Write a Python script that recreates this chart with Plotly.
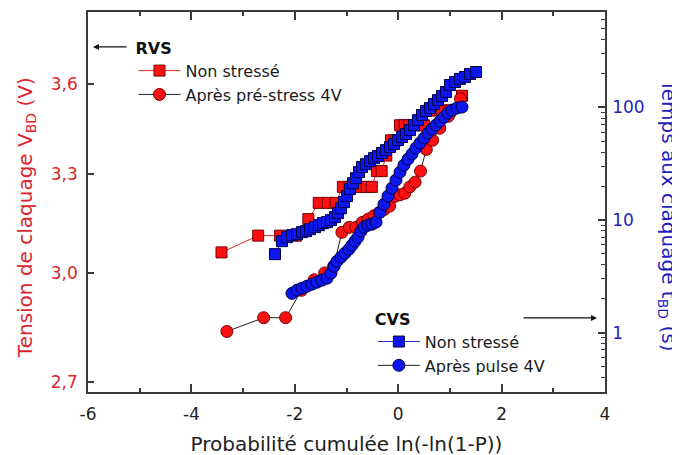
import math
import plotly.graph_objects as go

# ---------------- data ----------------
# RVS - Non stressé (tension de claquage, V)
rvs_ns_x = [-3.418, -2.708, -2.285, -1.979, -1.738, -1.537, -1.363, -1.209, -1.070, -0.943,
            -0.825, -0.714, -0.609, -0.510, -0.413, -0.320, -0.230, -0.140, -0.052, 0.035,
            0.123, 0.213, 0.304, 0.398, 0.496, 0.601, 0.717, 0.848, 1.008, 1.234]
rvs_ns_v = [3.06, 3.11, 3.11, 3.11, 3.16, 3.21, 3.21, 3.21, 3.26, 3.26,
            3.26, 3.26, 3.26, 3.26, 3.31, 3.31, 3.36, 3.41, 3.41, 3.46,
            3.46, 3.46, 3.46, 3.46, 3.46, 3.51, 3.51, 3.51, 3.51, 3.56]

# RVS - Après pré-stress 4V
rvs_ps_x = [-3.314, -2.602, -2.178, -1.870, -1.626, -1.422, -1.246, -1.089, -0.947, -0.817,
            -0.695, -0.581, -0.471, -0.367, -0.265, -0.166, -0.068, 0.029, 0.127, 0.225,
            0.327, 0.432, 0.544, 0.666, 0.804, 0.970, 1.204]
rvs_ps_v = [2.835, 2.873, 2.873, 2.95, 2.98, 3.00, 3.02, 3.12, 3.135, 3.135,
            3.15, 3.16, 3.17, 3.18, 3.19, 3.20, 3.23, 3.235, 3.24, 3.26,
            3.275, 3.31, 3.38, 3.41, 3.45, 3.49, 3.55]

# CVS - Non stressé (temps au claquage, s)
cvs_ns_x = [-2.383, -2.248, -2.151, -2.054, -1.957, -1.861, -1.783, -1.706, -1.609, -1.532,
            -1.455, -1.377, -1.300, -1.222, -1.164, -1.106, -1.048, -0.990, -0.932, -0.874,
            -0.816, -0.758, -0.700, -0.623, -0.545, -0.468, -0.391, -0.313, -0.236, -0.159,
            -0.081, -0.004, 0.074, 0.151, 0.228, 0.306, 0.383, 0.460, 0.538, 0.615,
            0.692, 0.770, 0.847, 0.925, 1.002, 1.099, 1.195, 1.292, 1.389, 1.505]
cvs_ns_t = [4.97, 6.48, 7.03, 7.33, 7.48, 7.79, 7.95, 8.28, 8.63, 8.99,
            9.37, 9.56, 9.96, 10.6, 11.5, 12.7, 14.4, 16.3, 18.8, 21.2,
            23.5, 26.6, 29.5, 31.3, 33.3, 35.4, 36.9, 39.3, 41.7, 44.4,
            47.2, 51.2, 54.5, 57.9, 62.8, 69.6, 77.1, 85.5, 92.7, 98.6,
            107, 116, 126, 137, 158, 168, 179, 186, 198, 206]

# CVS - Après pulse 4V
cvs_pp_x = [-2.054, -1.957, -1.861, -1.764, -1.667, -1.571, -1.474, -1.377, -1.300, -1.242,
            -1.184, -1.106, -1.029, -0.952, -0.894, -0.836, -0.778, -0.720, -0.662, -0.584,
            -0.507, -0.429, -0.352, -0.275, -0.197, -0.120, -0.043, 0.035, 0.112, 0.190,
            0.267, 0.344, 0.422, 0.499, 0.576, 0.654, 0.731, 0.809, 0.886, 0.963,
            1.041, 1.137, 1.234]
cvs_pp_t = [2.23, 2.38, 2.48, 2.58, 2.69, 2.80, 2.92, 3.04, 3.37, 3.88,
            4.30, 4.67, 5.07, 5.50, 5.97, 6.48, 7.03, 7.95, 8.63, 8.99,
            9.18, 9.56, 11.7, 13.8, 16.3, 19.2, 22.6, 26.6, 30.7, 34.7,
            38.5, 43.5, 48.2, 53.3, 59.1, 64.1, 69.6, 75.6, 82.0, 89.0,
            94.6, 98.6, 100.6]

# ticks
x_ticks = [-6, -4, -2, 0, 2, 4]
x_ticktext = ["-6", "-4", "-2", "0", "2", "4"]
x_minor = [-5, -3, -1, 1, 3]
v_ticks = [2.7, 3.0, 3.3, 3.6]
v_ticktext = ["2,7", "3,0", "3,3", "3,6"]
t_ticks = [1, 10, 100]
t_ticktext = ["1", "10", "100"]
t_minor = [0.3, 0.4, 0.5, 0.6, 0.7, 0.8, 0.9, 2, 3, 4, 5, 6, 7, 8, 9,
           20, 30, 40, 50, 60, 70, 80, 90, 200, 300, 400, 500, 600]

# ---------------- style ----------------
FONT = "DejaVu Sans"
RED_TXT = "#dc2430"
BLUE_TXT = "#1f1fbf"
AX = "#3a3a3a"
RED_FILL, RED_EDGE = "#fa1212", "#7a0000"
BLUE_FILL, BLUE_EDGE = "#0c16ee", "#00004a"

fig = go.Figure()
fig.add_trace(go.Scatter(
    x=rvs_ns_x, y=rvs_ns_v, name="Non stressé", mode="lines+markers", yaxis="y",
    legend="legend",
    line=dict(color="#e02828", width=1),
    marker=dict(symbol="square", size=11, color=RED_FILL, line=dict(color=RED_EDGE, width=1))))
fig.add_trace(go.Scatter(
    x=rvs_ps_x, y=rvs_ps_v, name="Après pré-stress 4V", mode="lines+markers", yaxis="y",
    legend="legend",
    line=dict(color="#202020", width=1),
    marker=dict(symbol="circle", size=12, color=RED_FILL, line=dict(color=RED_EDGE, width=1))))
fig.add_trace(go.Scatter(
    x=cvs_ns_x, y=cvs_ns_t, name="Non stressé", mode="lines+markers", yaxis="y2",
    legend="legend2",
    line=dict(color="#2020d0", width=1),
    marker=dict(symbol="square", size=11, color=BLUE_FILL, line=dict(color=BLUE_EDGE, width=1))))
fig.add_trace(go.Scatter(
    x=cvs_pp_x, y=cvs_pp_t, name="Après pulse 4V", mode="lines+markers", yaxis="y2",
    legend="legend2",
    line=dict(color="#202020", width=1),
    marker=dict(symbol="circle", size=12, color=BLUE_FILL, line=dict(color=BLUE_EDGE, width=1))))

legend_common = dict(
    xanchor="left", yanchor="top", bgcolor="rgba(0,0,0,0)", borderwidth=0,
    font=dict(family=FONT, size=16, color="#1a1a1a"), itemwidth=42, tracegroupgap=0,
)

# the page body adds an 8 px offset, so the margins are shifted by that amount
fig.update_layout(
    width=680, height=455,
    margin=dict(l=80, r=83, t=4, b=71, autoexpand=False),
    paper_bgcolor="white", plot_bgcolor="white",
    font=dict(family=FONT, size=17, color="#1a1a1a"),
    showlegend=True,
    legend=dict(title=dict(text="<b>RVS</b>", font=dict(family=FONT, size=16, color="#111")),
                x=0.088, y=0.945, **legend_common),
    legend2=dict(title=dict(text="<b>CVS</b>", font=dict(family=FONT, size=16, color="#111")),
                 x=0.551, y=0.232, **legend_common),
    xaxis=dict(
        range=[-6, 4], tickmode="array", tickvals=x_ticks, ticktext=x_ticktext,
        ticks="inside", ticklen=8, tickwidth=1.5, tickcolor=AX,
        minor=dict(tickmode="array", tickvals=x_minor, ticks="inside", ticklen=4,
                   tickwidth=1.5, tickcolor=AX),
        showline=True, linecolor=AX, linewidth=1.6, mirror="ticks",
        showgrid=False, zeroline=False, automargin=False,
        tickfont=dict(family=FONT, size=17, color="#222"), ticklabelstandoff=6,
        title=dict(text="Probabilité cumulée ln(-ln(1-P))",
                   font=dict(family=FONT, size=20, color="#222"), standoff=14),
    ),
    yaxis=dict(
        type="log", range=[math.log10(2.674), math.log10(3.86)],
        tickmode="array", tickvals=v_ticks, ticktext=v_ticktext,
        ticks="inside", ticklen=6, tickwidth=1.5, tickcolor=AX,
        showline=True, linecolor=AX, linewidth=1.6, mirror=False,
        showgrid=False, zeroline=False, automargin=False,
        tickfont=dict(family=FONT, size=17, color=RED_TXT), ticklabelstandoff=5,
    ),
    yaxis2=dict(
        type="log", range=[-0.528, 2.847], overlaying="y", side="right", anchor="x",
        tickmode="array", tickvals=t_ticks, ticktext=t_ticktext,
        ticks="inside", ticklen=7, tickwidth=1.5, tickcolor=AX,
        minor=dict(tickmode="array", tickvals=t_minor, ticks="inside", ticklen=4,
                   tickwidth=1.2, tickcolor=AX),
        showline=True, linecolor=AX, linewidth=1.6,
        showgrid=False, zeroline=False, automargin=False,
        tickfont=dict(family=FONT, size=17, color=BLUE_TXT), ticklabelstandoff=2,
    ),
    annotations=[
        dict(text="Tension de claquage V<sub>BD</sub> (V)", xref="paper", yref="paper",
             x=-0.12, y=0.46, xanchor="center", yanchor="middle", textangle=-90,
             showarrow=False, font=dict(family=FONT, size=20, color=RED_TXT)),
        dict(text="Temps aux claquage t<sub>BD</sub> (s)", xref="paper", yref="paper",
             x=1.122, y=0.466, xanchor="center", yanchor="middle", textangle=90,
             showarrow=False, font=dict(family=FONT, size=20, color=BLUE_TXT)),
        # RVS arrow -> left axis
        dict(text="", xref="paper", yref="paper", x=0.0097, y=0.908,
             ax=35, ay=0, showarrow=True, arrowhead=2, arrowsize=1, arrowwidth=1.2,
             arrowcolor="#111"),
        # CVS arrow -> right axis
        dict(text="", xref="paper", yref="paper", x=0.9845, y=0.195,
             ax=-75, ay=0, showarrow=True, arrowhead=2, arrowsize=1, arrowwidth=1.2,
             arrowcolor="#111"),
    ],
)

fig.write_html("out.html")
